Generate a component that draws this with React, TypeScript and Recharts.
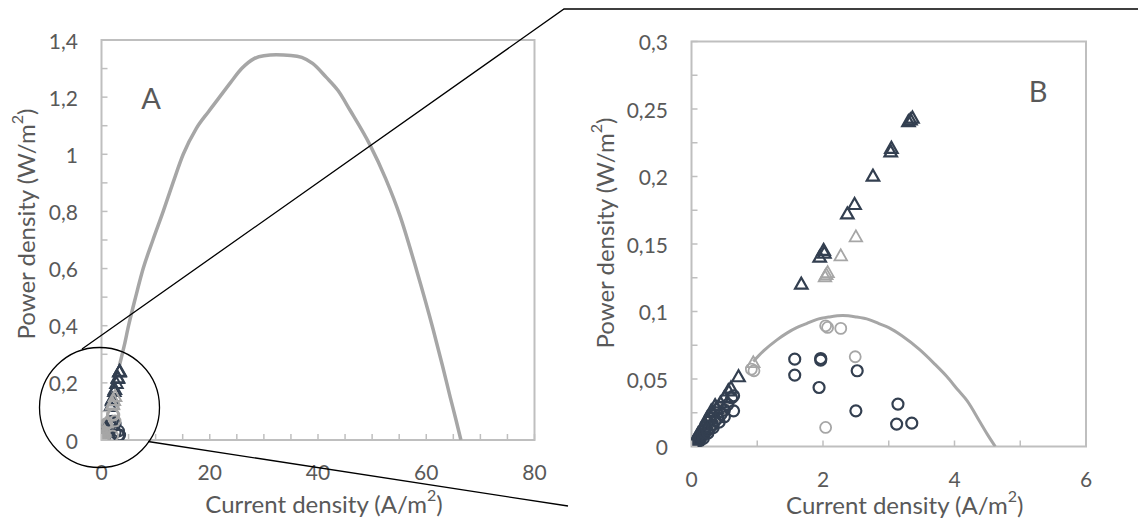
import React from "react";
import {
  ScatterChart,
  Scatter,
  XAxis,
  YAxis,
  ReferenceArea,
  ReferenceDot,
  Label,
} from "recharts";

const FONT = "Lato, 'Open Sans', sans-serif";
const TEXT = "#595959";
const AXIS = "#bfbfbf";
const DARK = "#333f50";
const GREY = "#a6a6a6";

// power curve, panel A (current density A/m2, power density W/m2)
const curveA = [
  { x: 3.3, y: 0.26 }, { x: 4.2, y: 0.33 }, { x: 5.0, y: 0.4 }, { x: 6.3, y: 0.5 },
  { x: 7.7, y: 0.6 }, { x: 9.5, y: 0.7 }, { x: 11.4, y: 0.8 }, { x: 13.2, y: 0.9 },
  { x: 15.1, y: 1.0 }, { x: 17.5, y: 1.09 }, { x: 19.8, y: 1.15 }, { x: 21.8, y: 1.2 },
  { x: 23.8, y: 1.25 }, { x: 25.9, y: 1.3 }, { x: 28.2, y: 1.335 }, { x: 30, y: 1.345 },
  { x: 32.3, y: 1.348 }, { x: 35, y: 1.346 }, { x: 37, y: 1.339 }, { x: 39, y: 1.318 },
  { x: 41.5, y: 1.27 }, { x: 43.7, y: 1.223 }, { x: 45.9, y: 1.155 }, { x: 49.6, y: 1.033 },
  { x: 52.5, y: 0.915 }, { x: 55.2, y: 0.782 }, { x: 58.2, y: 0.595 }, { x: 61.3, y: 0.385 },
  { x: 63, y: 0.26 }, { x: 64.4, y: 0.152 }, { x: 65.5, y: 0.07 }, { x: 66.4, y: 0 },
];

// power curve, panel B
const curveB = [
  { x: 0.94, y: 0.063 }, { x: 1.1, y: 0.071 }, { x: 1.3, y: 0.079 }, { x: 1.45, y: 0.084 },
  { x: 1.6, y: 0.088 }, { x: 1.75, y: 0.091 }, { x: 1.9, y: 0.094 }, { x: 2.1, y: 0.096 },
  { x: 2.3, y: 0.097 }, { x: 2.5, y: 0.096 }, { x: 2.7, y: 0.094 }, { x: 2.85, y: 0.091 },
  { x: 3.0, y: 0.088 }, { x: 3.2, y: 0.082 }, { x: 3.475, y: 0.0715 }, { x: 3.7, y: 0.061 },
  { x: 3.88, y: 0.052 }, { x: 4.05, y: 0.042 }, { x: 4.19, y: 0.034 }, { x: 4.39, y: 0.018 },
  { x: 4.5, y: 0.009 }, { x: 4.62, y: 0 },
];

// measured points
const darkTriangles = [
  { x: 0.01, y: 0.001 }, { x: 0.02, y: 0.003 }, { x: 0.03, y: 0.003 }, { x: 0.05, y: 0.004 },
  { x: 0.06, y: 0.006 }, { x: 0.07, y: 0.006 }, { x: 0.09, y: 0.008 }, { x: 0.1, y: 0.01 },
  { x: 0.12, y: 0.01 }, { x: 0.14, y: 0.013 }, { x: 0.15, y: 0.012 }, { x: 0.18, y: 0.015 },
  { x: 0.19, y: 0.017 }, { x: 0.21, y: 0.017 }, { x: 0.24, y: 0.022 }, { x: 0.25, y: 0.02 },
  { x: 0.29, y: 0.023 }, { x: 0.3, y: 0.027 }, { x: 0.33, y: 0.026 }, { x: 0.36, y: 0.031 },
  { x: 0.38, y: 0.029 }, { x: 0.44, y: 0.033 }, { x: 0.5, y: 0.037 }, { x: 0.56, y: 0.042 },
  { x: 0.6, y: 0.044 }, { x: 0.715, y: 0.0524 }, { x: 1.67, y: 0.121 }, { x: 1.95, y: 0.141 },
  { x: 2.01, y: 0.146 }, { x: 2.02, y: 0.144 }, { x: 2.37, y: 0.173 }, { x: 2.48, y: 0.18 },
  { x: 2.76, y: 0.201 }, { x: 3.03, y: 0.219 }, { x: 3.04, y: 0.2216 }, { x: 3.3, y: 0.2414 },
  { x: 3.33, y: 0.2427 }, { x: 3.36, y: 0.244 },
];

const darkCircles = [
  { x: 0.02, y: 0.001 }, { x: 0.05, y: 0.002 }, { x: 0.06, y: 0.001 }, { x: 0.08, y: 0.004 },
  { x: 0.11, y: 0.005 }, { x: 0.12, y: 0.004 }, { x: 0.14, y: 0.007 }, { x: 0.17, y: 0.008 },
  { x: 0.18, y: 0.006 }, { x: 0.2, y: 0.01 }, { x: 0.24, y: 0.012 }, { x: 0.25, y: 0.01 },
  { x: 0.28, y: 0.014 }, { x: 0.32, y: 0.016 }, { x: 0.33, y: 0.014 }, { x: 0.36, y: 0.019 },
  { x: 0.4, y: 0.021 }, { x: 0.42, y: 0.018 }, { x: 0.45, y: 0.024 }, { x: 0.5, y: 0.027 },
  { x: 0.5, y: 0.022 }, { x: 0.55, y: 0.031 }, { x: 0.61, y: 0.036 }, { x: 0.64, y: 0.0376 },
  { x: 0.64, y: 0.0264 }, { x: 1.57, y: 0.0647 }, { x: 1.57, y: 0.0529 }, { x: 1.965, y: 0.0652 },
  { x: 1.965, y: 0.064 }, { x: 1.94, y: 0.0437 }, { x: 2.52, y: 0.0561 }, { x: 2.5, y: 0.0264 },
  { x: 3.14, y: 0.0314 }, { x: 3.12, y: 0.0166 }, { x: 3.35, y: 0.0173 },
];

const greyTriangles = [
  { x: 0.05, y: 0.003 }, { x: 0.12, y: 0.008 }, { x: 0.2, y: 0.013 }, { x: 0.28, y: 0.018 },
  { x: 0.35, y: 0.023 }, { x: 0.45, y: 0.029 }, { x: 0.55, y: 0.034 }, { x: 0.94, y: 0.0628 },
  { x: 2.03, y: 0.1265 }, { x: 2.05, y: 0.128 }, { x: 2.07, y: 0.1295 }, { x: 2.27, y: 0.142 },
  { x: 2.5, y: 0.156 },
];

const greyCircles = [
  { x: 0.1, y: 0.005 }, { x: 0.3, y: 0.016 }, { x: 0.5, y: 0.028 }, { x: 0.91, y: 0.0573 },
  { x: 0.95, y: 0.0561 }, { x: 2.04, y: 0.0894 }, { x: 2.07, y: 0.0882 }, { x: 2.27, y: 0.0875 },
  { x: 2.49, y: 0.0665 }, { x: 2.04, y: 0.0141 },
];

const aXTicks = [0, 5, 10, 15, 20, 25, 30, 35, 40, 45, 50, 55, 60, 65, 70, 75, 80];
const aYTicks = [0, 0.1, 0.2, 0.3, 0.4, 0.5, 0.6, 0.7, 0.8, 0.9, 1, 1.1, 1.2, 1.3, 1.4];
const bXTicks = [0, 1, 2, 3, 4, 5, 6];
const bYTicks = [0, 0.025, 0.05, 0.075, 0.1, 0.125, 0.15, 0.175, 0.2, 0.225, 0.25, 0.275, 0.3];

const fmt = (v: number) => String(Number(v.toFixed(3))).replace(".", ",");
const isMajor = (v: number, step: number) =>
  Math.abs(v / step - Math.round(v / step)) < 1e-6;

const xTick = (step: number, gap: number) => (p: any) => {
  const { x, y, payload } = p;
  return (
    <g>
      <line x1={x} x2={x} y1={y} y2={y - 6} stroke={AXIS} strokeWidth={1.5} />
      {isMajor(payload.value, step) && (
        <text x={x} y={y + gap} textAnchor="middle" dominantBaseline="central"
          fontFamily={FONT} fontSize={21} fill={TEXT}>
          {fmt(payload.value)}
        </text>
      )}
    </g>
  );
};

const yTick = (step: number, gap: number) => (p: any) => {
  const { x, y, payload } = p;
  return (
    <g>
      <line x1={x} x2={x + 6} y1={y} y2={y} stroke={AXIS} strokeWidth={1.5} />
      {isMajor(payload.value, step) && (
        <text x={x - gap} y={y} textAnchor="end" dominantBaseline="central"
          fontFamily={FONT} fontSize={21} fill={TEXT}>
          {fmt(payload.value)}
        </text>
      )}
    </g>
  );
};

const titleText = (name: string, unit: string) => [
  <tspan key="a">{name} ({unit}/m</tspan>,
  <tspan key="b" dy={-9} fontSize={16}>2</tspan>,
  <tspan key="c" dy={9}>)</tspan>,
];

const xTitle = (dx: number, dy: number) => (p: any) => {
  const vb = p.viewBox;
  return (
    <text x={vb.x + vb.width / 2 + dx} y={vb.y + dy} textAnchor="middle"
      dominantBaseline="central" fontFamily={FONT} fontSize={24} fill={TEXT}>
      {titleText("Current density", "A")}
    </text>
  );
};

const yTitle = (cx: number, dy: number) => (p: any) => {
  const vb = p.viewBox;
  const cy = vb.y + vb.height / 2 + dy;
  return (
    <text x={cx} y={cy} transform={`rotate(-90, ${cx}, ${cy})`} textAnchor="middle"
      dominantBaseline="central" fontFamily={FONT} fontSize={24} fill={TEXT}>
      {titleText("Power density", "W")}
    </text>
  );
};

const triangle = (color: string, w: number) => (p: any) => {
  const { cx, cy } = p;
  if (cx == null || cy == null) return <g />;
  const s = 12.5;
  const h = 11;
  return (
    <polygon
      points={`${cx},${cy - h / 2} ${cx - s / 2},${cy + h / 2} ${cx + s / 2},${cy + h / 2}`}
      fill="none" stroke={color} strokeWidth={w}
    />
  );
};

const circle = (color: string, w: number) => (p: any) => {
  const { cx, cy } = p;
  if (cx == null || cy == null) return <g />;
  return <circle cx={cx} cy={cy} r={5.5} fill="none" stroke={color} strokeWidth={w} />;
};

const noDot = () => <g />;

const panelTag = (t: string) => (p: any) => (
  <text x={p.cx} y={p.cy} textAnchor="middle" dominantBaseline="central"
    fontFamily={FONT} fontSize={29} fill={TEXT}>
    {t}
  </text>
);

const ChartA = () => (
  <ScatterChart width={570} height={527} margin={{ top: 40, right: 35.5, bottom: 0, left: 0 }}>
    <XAxis type="number" dataKey="x" domain={[0, 80]} ticks={aXTicks} interval={0}
      tickSize={0} tickMargin={0} tickLine={false} axisLine={false} height={87}
      tick={xTick(20, 31)} allowDataOverflow>
      <Label content={xTitle(6, 63)} />
    </XAxis>
    <YAxis type="number" dataKey="y" domain={[0, 1.4]} ticks={aYTicks} interval={0}
      tickSize={0} tickMargin={0} tickLine={false} axisLine={false} width={101.5}
      tick={yTick(0.2, 23.5)} allowDataOverflow>
      <Label content={yTitle(24.5, -16)} />
    </YAxis>
    <ReferenceArea x1={0} x2={80} y1={0} y2={1.4} fill="none" stroke={AXIS} strokeWidth={2} />
    <Scatter data={curveA} shape={noDot} line={{ stroke: GREY, strokeWidth: 3.5 }}
      lineJointType="monotoneX" isAnimationActive={false} />
    <Scatter data={darkTriangles} shape={triangle(DARK, 2)} isAnimationActive={false} />
    <Scatter data={darkCircles} shape={circle(DARK, 2)} isAnimationActive={false} />
    <Scatter data={greyTriangles} shape={triangle(GREY, 2)} isAnimationActive={false} />
    <Scatter data={greyCircles} shape={circle(GREY, 2)} isAnimationActive={false} />
    <ReferenceDot x={9.15} y={1.2} r={0} shape={panelTag("A")} />
  </ScatterChart>
);

const ChartB = () => (
  <ScatterChart width={568} height={527} margin={{ top: 41.5, right: 52, bottom: 0, left: 0 }}>
    <XAxis type="number" dataKey="x" domain={[0, 6]} ticks={bXTicks} interval={0}
      tickSize={0} tickMargin={0} tickLine={false} axisLine={false} height={80.5}
      tick={xTick(2, 31.5)} allowDataOverflow>
      <Label content={xTitle(16, 57)} />
    </XAxis>
    <YAxis type="number" dataKey="y" domain={[0, 0.3]} ticks={bYTicks} interval={0}
      tickSize={0} tickMargin={0} tickLine={false} axisLine={false} width={121.5}
      tick={yTick(0.05, 23.5)} allowDataOverflow>
      <Label content={yTitle(33.5, -11)} />
    </YAxis>
    <ReferenceArea x1={0} x2={6} y1={0} y2={0.3} fill="none" stroke={AXIS} strokeWidth={2} />
    <Scatter data={curveB} shape={noDot} line={{ stroke: GREY, strokeWidth: 3 }}
      lineJointType="monotoneX" isAnimationActive={false} />
    <Scatter data={greyTriangles} shape={triangle(GREY, 1.8)} isAnimationActive={false} />
    <Scatter data={greyCircles} shape={circle(GREY, 1.8)} isAnimationActive={false} />
    <Scatter data={darkTriangles} shape={triangle(DARK, 2.2)} isAnimationActive={false} />
    <Scatter data={darkCircles} shape={circle(DARK, 2.2)} isAnimationActive={false} />
    <ReferenceDot x={5.27} y={0.264} r={0} shape={panelTag("B")} />
  </ScatterChart>
);

export default function App() {
  return (
    <div style={{ position: "absolute", left: 0, top: 0, width: 1138, height: 527, background: "#fff" }}>
      <div style={{ position: "absolute", left: 0, top: 0 }}>
        <ChartA />
      </div>
      <div style={{ position: "absolute", left: 570, top: 0 }}>
        <ChartB />
      </div>
      {/* zoom callout: circle round the origin of A and the two guide lines */}
      <svg width={1138} height={527} style={{ position: "absolute", left: 0, top: 0, pointerEvents: "none" }}>
        <circle cx={99.5} cy={407.5} r={60} fill="none" stroke="#000" strokeWidth={1.3} />
        <polyline points="82,349 564,9 1138,9" fill="none" stroke="#000" strokeWidth={1.3} />
        <line x1={148} y1={441.5} x2={568} y2={506} stroke="#000" strokeWidth={1.3} />
      </svg>
    </div>
  );
}
